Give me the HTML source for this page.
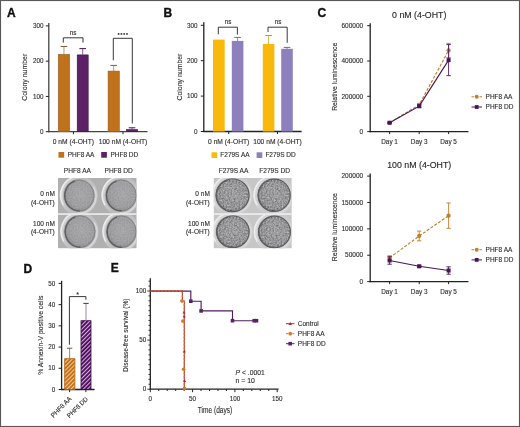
<!DOCTYPE html><html><head><meta charset="utf-8"><style>
html,body{margin:0;padding:0;background:#fff;}
#fig{position:relative;width:520px;height:427px;overflow:hidden;background:#fff;font-family:"Liberation Sans", sans-serif;}
svg{position:absolute;left:0;top:0;} text{stroke-linejoin:round;stroke:#2e2e2e;stroke-width:0.12px;} #fig{will-change:transform;}
</style></head><body><div id="fig">
<svg width="520" height="427" viewBox="0 0 520 427" font-family='"Liberation Sans", sans-serif'>
<defs>
<filter id="noiseA" x="0" y="0" width="100%" height="100%" color-interpolation-filters="sRGB"><feTurbulence type="fractalNoise" baseFrequency="0.7" numOctaves="2" seed="7" result="n"/><feColorMatrix in="n" type="matrix" values="0.33 0.33 0.33 0 0  0.33 0.33 0.33 0 0  0.33 0.33 0.33 0 0  0 0 0 0 1" result="g"/><feComponentTransfer in="g" result="c"><feFuncR type="linear" slope="1.3" intercept="-0.15000000000000002"/><feFuncG type="linear" slope="1.3" intercept="-0.15000000000000002"/><feFuncB type="linear" slope="1.3" intercept="-0.15000000000000002"/></feComponentTransfer><feComposite in="c" in2="SourceGraphic" operator="in"/></filter>
<filter id="noiseB" x="0" y="0" width="100%" height="100%" color-interpolation-filters="sRGB"><feTurbulence type="fractalNoise" baseFrequency="0.62" numOctaves="2" seed="7" result="n"/><feColorMatrix in="n" type="matrix" values="0.33 0.33 0.33 0 0  0.33 0.33 0.33 0 0  0.33 0.33 0.33 0 0  0 0 0 0 1" result="g"/><feComponentTransfer in="g" result="c"><feFuncR type="linear" slope="2.2" intercept="-0.6000000000000001"/><feFuncG type="linear" slope="2.2" intercept="-0.6000000000000001"/><feFuncB type="linear" slope="2.2" intercept="-0.6000000000000001"/></feComponentTransfer><feComposite in="c" in2="SourceGraphic" operator="in"/></filter>
<clipPath id="clipA0"><rect x="58" y="178" width="78.5" height="35.4"/></clipPath>
<clipPath id="clipA1"><rect x="58" y="214.8" width="78.5" height="33.4"/></clipPath>
<clipPath id="clipB0"><rect x="213.8" y="178" width="77.8" height="35.4"/></clipPath>
<clipPath id="clipB1"><rect x="213.8" y="214.8" width="77.8" height="33.4"/></clipPath>
<pattern id="hatchO" width="2.9" height="2.9" patternUnits="userSpaceOnUse" patternTransform="rotate(45)"><rect width="2.9" height="2.9" fill="#c06c16"/><rect width="1.1" height="2.9" fill="#f8cc92"/></pattern>
<pattern id="hatchP" width="2.9" height="2.9" patternUnits="userSpaceOnUse" patternTransform="rotate(45)"><rect width="2.9" height="2.9" fill="#420d50"/><rect width="1.1" height="2.9" fill="#dfa8e8"/></pattern>
<radialGradient id="diskA" cx="0.55" cy="0.45" r="0.6"><stop offset="0" stop-color="#b1b1b5"/><stop offset="0.7" stop-color="#a6a6aa"/><stop offset="1" stop-color="#8c8c90"/></radialGradient>
<radialGradient id="diskB" cx="0.55" cy="0.45" r="0.6"><stop offset="0" stop-color="#b2b2b6"/><stop offset="0.72" stop-color="#a3a3a7"/><stop offset="1" stop-color="#818185"/></radialGradient>
<filter id="soft" x="-10%" y="-10%" width="120%" height="120%"><feGaussianBlur stdDeviation="0.5"/></filter>
<linearGradient id="rimgradA" x1="0" y1="0.3" x2="1" y2="0.7"><stop offset="0" stop-color="#d6d6d8"/><stop offset="0.45" stop-color="#bcbcbe"/><stop offset="1" stop-color="#c6c6c8"/></linearGradient>
<linearGradient id="rimgradB" x1="0" y1="0.3" x2="1" y2="0.7"><stop offset="0" stop-color="#dcdcde"/><stop offset="0.45" stop-color="#c8c8ca"/><stop offset="1" stop-color="#d0d0d2"/></linearGradient>
</defs>
<rect x="0" y="0" width="520" height="427" fill="#fff"/>
<text x="7" y="16.9" font-size="12" text-anchor="start" fill="#111" font-weight="bold" style="stroke:#111;stroke-width:0.35px">A</text>
<text x="163.6" y="16.8" font-size="12" text-anchor="start" fill="#111" font-weight="bold" style="stroke:#111;stroke-width:0.35px">B</text>
<text x="317.6" y="16.8" font-size="12" text-anchor="start" fill="#111" font-weight="bold" style="stroke:#111;stroke-width:0.35px">C</text>
<text x="23.6" y="272.8" font-size="12" text-anchor="start" fill="#111" font-weight="bold" style="stroke:#111;stroke-width:0.35px">D</text>
<text x="110.8" y="272.4" font-size="12" text-anchor="start" fill="#111" font-weight="bold" style="stroke:#111;stroke-width:0.35px">E</text>
<line x1="48.8" y1="22.9" x2="48.8" y2="132.29999999999998" stroke="#444" stroke-width="1.3" />
<line x1="45.8" y1="25.9" x2="48.8" y2="25.9" stroke="#222" stroke-width="1" />
<text x="43.6" y="28.099999999999998" font-size="6.3" text-anchor="end" fill="#2e2e2e" font-weight="normal" >300</text>
<line x1="45.8" y1="61.16666666666666" x2="48.8" y2="61.16666666666666" stroke="#222" stroke-width="1" />
<text x="43.6" y="63.36666666666666" font-size="6.3" text-anchor="end" fill="#2e2e2e" font-weight="normal" >200</text>
<line x1="45.8" y1="96.43333333333331" x2="48.8" y2="96.43333333333331" stroke="#222" stroke-width="1" />
<text x="43.6" y="98.63333333333331" font-size="6.3" text-anchor="end" fill="#2e2e2e" font-weight="normal" >100</text>
<line x1="45.8" y1="131.7" x2="48.8" y2="131.7" stroke="#222" stroke-width="1" />
<text x="43.6" y="133.89999999999998" font-size="6.3" text-anchor="end" fill="#2e2e2e" font-weight="normal" >0</text>
<line x1="48.199999999999996" y1="131.7" x2="147.5" y2="131.7" stroke="#444" stroke-width="1.3" />
<line x1="73.4" y1="131.7" x2="73.4" y2="134.2" stroke="#222" stroke-width="1" />
<text x="73.4" y="144.0" font-size="6.7" text-anchor="middle" fill="#2e2e2e" font-weight="normal" >0 nM (4-OHT)</text>
<line x1="123" y1="131.7" x2="123" y2="134.2" stroke="#222" stroke-width="1" />
<text x="123" y="144.0" font-size="6.7" text-anchor="middle" fill="#2e2e2e" font-weight="normal" >100 nM (4-OHT)</text>
<rect x="58.3" y="54.4" width="11.3" height="77.3" fill="#c0711c" stroke="#9a5a1c" stroke-width="0.6"/>
<line x1="63.95" y1="46.5" x2="63.95" y2="54.4" stroke="#b48c68" stroke-width="0.9" />
<line x1="60.650000000000006" y1="46.5" x2="67.25" y2="46.5" stroke="#7c5c3c" stroke-width="1.0" />
<rect x="77.2" y="54.9" width="11.0" height="76.8" fill="#5c2166" stroke="#3e1248" stroke-width="0.6"/>
<line x1="82.7" y1="48.6" x2="82.7" y2="54.9" stroke="#7a4a88" stroke-width="0.9" />
<line x1="79.4" y1="48.6" x2="86.0" y2="48.6" stroke="#3c1848" stroke-width="1.0" />
<rect x="108.1" y="71.1" width="11.200000000000001" height="60.599999999999994" fill="#c0711c" stroke="#9a5a1c" stroke-width="0.6"/>
<line x1="113.7" y1="65.4" x2="113.7" y2="71.1" stroke="#b48c68" stroke-width="0.9" />
<line x1="110.4" y1="65.4" x2="117.0" y2="65.4" stroke="#7c5c3c" stroke-width="1.0" />
<rect x="126.5" y="129.60000000000002" width="11.0" height="2.0999999999999774" fill="#5c2166" stroke="#3e1248" stroke-width="0.6"/>
<line x1="132.0" y1="127.8" x2="132.0" y2="129.60000000000002" stroke="#7a4a88" stroke-width="0.9" />
<line x1="128.7" y1="127.8" x2="135.3" y2="127.8" stroke="#3c1848" stroke-width="1.0" />
<path d="M63.3 42.6 V37.8 H83 V42.6" fill="none" stroke="#222" stroke-width="0.9"/>
<text x="73.2" y="35.3" font-size="6.3" text-anchor="middle" fill="#2e2e2e" font-weight="normal" >ns</text>
<path d="M113.3 60.3 V38.3 H132.3 V123.5" fill="none" stroke="#222" stroke-width="0.9"/>
<text x="122.9" y="37.9" font-size="6.3" text-anchor="middle" fill="#2e2e2e" font-weight="normal" ></text>
<rect x="58.5" y="152.0" width="5.7" height="5.7" fill="#c0711c" />
<text x="67.7" y="157.1" font-size="6.5" text-anchor="start" fill="#2e2e2e" font-weight="normal" >PHF8 AA</text>
<rect x="101.2" y="152.0" width="5.7" height="5.7" fill="#5c2166" />
<text x="110.4" y="157.1" font-size="6.5" text-anchor="start" fill="#2e2e2e" font-weight="normal" >PHF8 DD</text>
<text x="-23.5" y="0" font-size="7.8" text-anchor="start" fill="#2e2e2e" textLength="47.0" lengthAdjust="spacingAndGlyphs" transform="translate(26.5,77.25) rotate(-90)">Colony number</text>
<circle cx="118.6" cy="33.9" r="0.95" fill="#333"/>
<circle cx="121.4" cy="33.9" r="0.95" fill="#333"/>
<circle cx="124.2" cy="33.9" r="0.95" fill="#333"/>
<circle cx="127.0" cy="33.9" r="0.95" fill="#333"/>
<line x1="203.8" y1="22.3" x2="203.8" y2="132.1" stroke="#222" stroke-width="1.3" />
<line x1="200.8" y1="25.3" x2="203.8" y2="25.3" stroke="#222" stroke-width="1" />
<text x="197.6" y="27.5" font-size="6.3" text-anchor="end" fill="#2e2e2e" font-weight="normal" >300</text>
<line x1="200.8" y1="60.7" x2="203.8" y2="60.7" stroke="#222" stroke-width="1" />
<text x="197.6" y="62.900000000000006" font-size="6.3" text-anchor="end" fill="#2e2e2e" font-weight="normal" >200</text>
<line x1="200.8" y1="96.1" x2="203.8" y2="96.1" stroke="#222" stroke-width="1" />
<text x="197.6" y="98.3" font-size="6.3" text-anchor="end" fill="#2e2e2e" font-weight="normal" >100</text>
<line x1="200.8" y1="131.5" x2="203.8" y2="131.5" stroke="#222" stroke-width="1" />
<text x="197.6" y="133.7" font-size="6.3" text-anchor="end" fill="#2e2e2e" font-weight="normal" >0</text>
<line x1="203.20000000000002" y1="131.5" x2="301.6" y2="131.5" stroke="#222" stroke-width="1.3" />
<line x1="228.7" y1="131.5" x2="228.7" y2="134.0" stroke="#222" stroke-width="1" />
<text x="228.7" y="143.8" font-size="6.7" text-anchor="middle" fill="#2e2e2e" font-weight="normal" >0 nM (4-OHT)</text>
<line x1="277.5" y1="131.5" x2="277.5" y2="134.0" stroke="#222" stroke-width="1" />
<text x="277.5" y="143.8" font-size="6.7" text-anchor="middle" fill="#2e2e2e" font-weight="normal" >100 nM (4-OHT)</text>
<rect x="213.0" y="39.6" width="11.7" height="91.9" fill="#f8b90c" />
<rect x="231.8" y="40.9" width="11.6" height="90.6" fill="#8d80bd" />
<line x1="237.60000000000002" y1="37.4" x2="237.60000000000002" y2="41.199999999999996" stroke="#8878b0" stroke-width="0.9" />
<line x1="234.3" y1="37.4" x2="240.90000000000003" y2="37.4" stroke="#7464a0" stroke-width="1.0" />
<rect x="262.8" y="43.9" width="11.6" height="87.6" fill="#f8b90c" />
<line x1="268.6" y1="35.5" x2="268.6" y2="44.199999999999996" stroke="#c4aa44" stroke-width="0.9" />
<line x1="265.3" y1="35.5" x2="271.90000000000003" y2="35.5" stroke="#b49c3c" stroke-width="1.0" />
<rect x="281.2" y="48.8" width="11.6" height="82.7" fill="#8d80bd" />
<line x1="287.0" y1="47.4" x2="287.0" y2="49.099999999999994" stroke="#8878b0" stroke-width="0.9" />
<line x1="283.7" y1="47.4" x2="290.3" y2="47.4" stroke="#7464a0" stroke-width="1.0" />
<path d="M218.3 34.3 V27.2 H237.4 V34.6" fill="none" stroke="#222" stroke-width="0.9"/>
<text x="228" y="24.2" font-size="6.3" text-anchor="middle" fill="#2e2e2e" font-weight="normal" >ns</text>
<path d="M268 32 V27.2 H287.2 V42.8" fill="none" stroke="#222" stroke-width="0.9"/>
<text x="278" y="24.2" font-size="6.3" text-anchor="middle" fill="#2e2e2e" font-weight="normal" >ns</text>
<rect x="211.5" y="152.3" width="5.7" height="5.7" fill="#f8b90c" />
<text x="220.3" y="157.4" font-size="6.5" text-anchor="start" fill="#2e2e2e" font-weight="normal" >F279S AA</text>
<rect x="256.6" y="152.3" width="5.7" height="5.7" fill="#8d80bd" />
<text x="265.4" y="157.4" font-size="6.5" text-anchor="start" fill="#2e2e2e" font-weight="normal" >F279S DD</text>
<text x="-23.5" y="0" font-size="7.8" text-anchor="start" fill="#2e2e2e" textLength="47.0" lengthAdjust="spacingAndGlyphs" transform="translate(181.5,77.1) rotate(-90)">Colony number</text>
<text x="77.4" y="173.0" font-size="6.6" text-anchor="middle" fill="#2e2e2e" font-weight="normal" >PHF8 AA</text>
<text x="118.6" y="173.0" font-size="6.6" text-anchor="middle" fill="#2e2e2e" font-weight="normal" >PHF8 DD</text>
<text x="54.8" y="196.4" font-size="6.5" text-anchor="end" fill="#2e2e2e" font-weight="normal" >0 nM</text>
<text x="54.8" y="205.0" font-size="6.5" text-anchor="end" fill="#2e2e2e" font-weight="normal" >(4-OHT)</text>
<text x="54.8" y="225.5" font-size="6.5" text-anchor="end" fill="#2e2e2e" font-weight="normal" >100 nM</text>
<text x="54.8" y="233.5" font-size="6.5" text-anchor="end" fill="#2e2e2e" font-weight="normal" >(4-OHT)</text>
<rect x="58" y="178" width="78.5" height="70.19999999999999" fill="#b0b0b1"/>
<g clip-path="url(#clipA0)"><g transform="translate(79.3,195.6) scale(0.9744,1.0256)">
<circle cx="-0.6" cy="0" r="17.8" fill="none" stroke="url(#rimgradA)" stroke-width="3.2" filter="url(#soft)"/>
<path d="M-16.76 8.80 A18.2 18.2 0 0 1 -4.16 -18.22" fill="none" stroke="#eeeeee" stroke-width="1.4" stroke-linecap="round" filter="url(#soft)"/>
<path d="M14.85 -8.10 A16.8 16.8 0 0 1 -1.16 17.04" fill="none" stroke="#dadada" stroke-width="1.3" stroke-linecap="round" filter="url(#soft)"/>
<circle cx="0" cy="0" r="15.6" fill="url(#diskA)"/>
<circle cx="0" cy="0" r="15.1" fill="none" stroke="#7a7a7a" stroke-width="0.8"/>
<path d="M0.00 14.90 A14.9 14.9 0 0 1 -5.10 -14.00" fill="none" stroke="#5e5e5e" stroke-width="1.4" stroke-linecap="round" filter="url(#soft)"/>
<circle cx="0" cy="0" r="14.6" fill="#888" filter="url(#noiseA)" opacity="0.18"/>
</g></g>
<g clip-path="url(#clipA0)"><g transform="translate(121.2,195.5) scale(0.9809,1.0191)">
<circle cx="-0.6" cy="0" r="17.9" fill="none" stroke="url(#rimgradA)" stroke-width="3.2" filter="url(#soft)"/>
<path d="M-16.85 8.85 A18.3 18.3 0 0 1 -4.18 -18.32" fill="none" stroke="#eeeeee" stroke-width="1.4" stroke-linecap="round" filter="url(#soft)"/>
<path d="M14.94 -8.15 A16.9 16.9 0 0 1 -1.17 17.14" fill="none" stroke="#dadada" stroke-width="1.3" stroke-linecap="round" filter="url(#soft)"/>
<circle cx="0" cy="0" r="15.7" fill="url(#diskA)"/>
<circle cx="0" cy="0" r="15.2" fill="none" stroke="#7a7a7a" stroke-width="0.8"/>
<path d="M0.00 15.00 A15.0 15.0 0 0 1 -5.13 -14.10" fill="none" stroke="#5e5e5e" stroke-width="1.4" stroke-linecap="round" filter="url(#soft)"/>
<circle cx="0" cy="0" r="14.7" fill="#888" filter="url(#noiseA)" opacity="0.18"/>
</g></g>
<g clip-path="url(#clipA1)"><g transform="translate(80.0,231.6) scale(0.9716,1.0284)">
<circle cx="-0.6" cy="0" r="18.05" fill="none" stroke="url(#rimgradA)" stroke-width="3.2" filter="url(#soft)"/>
<path d="M-16.98 8.92 A18.450000000000003 18.450000000000003 0 0 1 -4.20 -18.47" fill="none" stroke="#eeeeee" stroke-width="1.4" stroke-linecap="round" filter="url(#soft)"/>
<path d="M15.07 -8.22 A17.05 17.05 0 0 1 -1.19 17.29" fill="none" stroke="#dadada" stroke-width="1.3" stroke-linecap="round" filter="url(#soft)"/>
<circle cx="0" cy="0" r="15.850000000000001" fill="url(#diskA)"/>
<circle cx="0" cy="0" r="15.350000000000001" fill="none" stroke="#7a7a7a" stroke-width="0.8"/>
<path d="M0.00 15.15 A15.150000000000002 15.150000000000002 0 0 1 -5.18 -14.24" fill="none" stroke="#5e5e5e" stroke-width="1.4" stroke-linecap="round" filter="url(#soft)"/>
<circle cx="0" cy="0" r="14.850000000000001" fill="#888" filter="url(#noiseA)" opacity="0.18"/>
</g></g>
<g clip-path="url(#clipA1)"><g transform="translate(121.5,231.7) scale(0.9585,1.0415)">
<circle cx="-0.6" cy="0" r="17.85" fill="none" stroke="url(#rimgradA)" stroke-width="3.2" filter="url(#soft)"/>
<path d="M-16.80 8.82 A18.25 18.25 0 0 1 -4.17 -18.27" fill="none" stroke="#eeeeee" stroke-width="1.4" stroke-linecap="round" filter="url(#soft)"/>
<path d="M14.89 -8.12 A16.85 16.85 0 0 1 -1.17 17.09" fill="none" stroke="#dadada" stroke-width="1.3" stroke-linecap="round" filter="url(#soft)"/>
<circle cx="0" cy="0" r="15.65" fill="url(#diskA)"/>
<circle cx="0" cy="0" r="15.15" fill="none" stroke="#7a7a7a" stroke-width="0.8"/>
<path d="M0.00 14.95 A14.950000000000001 14.950000000000001 0 0 1 -5.11 -14.05" fill="none" stroke="#5e5e5e" stroke-width="1.4" stroke-linecap="round" filter="url(#soft)"/>
<circle cx="0" cy="0" r="14.65" fill="#888" filter="url(#noiseA)" opacity="0.18"/>
</g></g>
<rect x="58" y="213.3" width="78.5" height="1.5" fill="#f2f2f2"/>
<text x="233.5" y="173.0" font-size="6.6" text-anchor="middle" fill="#2e2e2e" font-weight="normal" >F279S AA</text>
<text x="274.6" y="173.0" font-size="6.6" text-anchor="middle" fill="#2e2e2e" font-weight="normal" >F279S DD</text>
<text x="209.8" y="196.4" font-size="6.5" text-anchor="end" fill="#2e2e2e" font-weight="normal" >0 nM</text>
<text x="209.8" y="205.0" font-size="6.5" text-anchor="end" fill="#2e2e2e" font-weight="normal" >(4-OHT)</text>
<text x="209.8" y="225.5" font-size="6.5" text-anchor="end" fill="#2e2e2e" font-weight="normal" >100 nM</text>
<text x="209.8" y="233.5" font-size="6.5" text-anchor="end" fill="#2e2e2e" font-weight="normal" >(4-OHT)</text>
<rect x="213.8" y="178" width="77.80000000000001" height="70.19999999999999" fill="#c6c6c7"/>
<g clip-path="url(#clipB0)"><g transform="translate(232.6,195.3) scale(1.0030,0.9970)">
<circle cx="-0.6" cy="0" r="19.05" fill="none" stroke="url(#rimgradB)" stroke-width="3.2" filter="url(#soft)"/>
<path d="M-17.84 9.42 A19.450000000000003 19.450000000000003 0 0 1 -4.38 -19.45" fill="none" stroke="#eeeeee" stroke-width="1.4" stroke-linecap="round" filter="url(#soft)"/>
<path d="M15.93 -8.72 A18.05 18.05 0 0 1 -1.27 18.28" fill="none" stroke="#dadada" stroke-width="1.3" stroke-linecap="round" filter="url(#soft)"/>
<circle cx="0" cy="0" r="16.85" fill="url(#diskB)"/>
<circle cx="0" cy="0" r="16.35" fill="none" stroke="#5c5c5e" stroke-width="1.2"/>
<path d="M0.00 16.15 A16.150000000000002 16.150000000000002 0 0 1 -5.52 -15.18" fill="none" stroke="#5e5e5e" stroke-width="1.4" stroke-linecap="round" filter="url(#soft)"/>
<circle cx="0" cy="0" r="15.850000000000001" fill="#888" filter="url(#noiseB)" opacity="0.36"/>
</g></g>
<g clip-path="url(#clipB0)"><g transform="translate(274.2,195.3) scale(0.9970,1.0030)">
<circle cx="-0.6" cy="0" r="18.75" fill="none" stroke="url(#rimgradB)" stroke-width="3.2" filter="url(#soft)"/>
<path d="M-17.58 9.27 A19.150000000000002 19.150000000000002 0 0 1 -4.33 -19.16" fill="none" stroke="#eeeeee" stroke-width="1.4" stroke-linecap="round" filter="url(#soft)"/>
<path d="M15.67 -8.57 A17.75 17.75 0 0 1 -1.25 17.98" fill="none" stroke="#dadada" stroke-width="1.3" stroke-linecap="round" filter="url(#soft)"/>
<circle cx="0" cy="0" r="16.55" fill="url(#diskB)"/>
<circle cx="0" cy="0" r="16.05" fill="none" stroke="#5c5c5e" stroke-width="1.2"/>
<path d="M0.00 15.85 A15.850000000000001 15.850000000000001 0 0 1 -5.42 -14.89" fill="none" stroke="#5e5e5e" stroke-width="1.4" stroke-linecap="round" filter="url(#soft)"/>
<circle cx="0" cy="0" r="15.55" fill="#888" filter="url(#noiseB)" opacity="0.36"/>
</g></g>
<g clip-path="url(#clipB1)"><g transform="translate(232.9,231.8) scale(1.0121,0.9879)">
<circle cx="-0.6" cy="0" r="18.7" fill="none" stroke="url(#rimgradB)" stroke-width="3.2" filter="url(#soft)"/>
<path d="M-17.54 9.25 A19.1 19.1 0 0 1 -4.32 -19.11" fill="none" stroke="#eeeeee" stroke-width="1.4" stroke-linecap="round" filter="url(#soft)"/>
<path d="M15.63 -8.55 A17.7 17.7 0 0 1 -1.24 17.93" fill="none" stroke="#dadada" stroke-width="1.3" stroke-linecap="round" filter="url(#soft)"/>
<circle cx="0" cy="0" r="16.5" fill="url(#diskB)"/>
<circle cx="0" cy="0" r="16.0" fill="none" stroke="#5c5c5e" stroke-width="1.2"/>
<path d="M0.00 15.80 A15.8 15.8 0 0 1 -5.40 -14.85" fill="none" stroke="#5e5e5e" stroke-width="1.4" stroke-linecap="round" filter="url(#soft)"/>
<circle cx="0" cy="0" r="15.5" fill="#888" filter="url(#noiseB)" opacity="0.36"/>
</g></g>
<g clip-path="url(#clipB1)"><g transform="translate(274.5,232.0) scale(1.0031,0.9969)">
<circle cx="-0.6" cy="0" r="18.55" fill="none" stroke="url(#rimgradB)" stroke-width="3.2" filter="url(#soft)"/>
<path d="M-17.41 9.17 A18.950000000000003 18.950000000000003 0 0 1 -4.29 -18.96" fill="none" stroke="#eeeeee" stroke-width="1.4" stroke-linecap="round" filter="url(#soft)"/>
<path d="M15.50 -8.47 A17.55 17.55 0 0 1 -1.23 17.78" fill="none" stroke="#dadada" stroke-width="1.3" stroke-linecap="round" filter="url(#soft)"/>
<circle cx="0" cy="0" r="16.35" fill="url(#diskB)"/>
<circle cx="0" cy="0" r="15.850000000000001" fill="none" stroke="#5c5c5e" stroke-width="1.2"/>
<path d="M0.00 15.65 A15.650000000000002 15.650000000000002 0 0 1 -5.35 -14.71" fill="none" stroke="#5e5e5e" stroke-width="1.4" stroke-linecap="round" filter="url(#soft)"/>
<circle cx="0" cy="0" r="15.350000000000001" fill="#888" filter="url(#noiseB)" opacity="0.36"/>
</g></g>
<rect x="213.8" y="213.3" width="77.80000000000001" height="1.5" fill="#f2f2f2"/>
<text x="419.2" y="18.0" font-size="8.8" text-anchor="middle" fill="#222" font-weight="normal" >0 nM (4-OHT)</text>
<line x1="370.2" y1="23.2" x2="370.2" y2="132.2" stroke="#222" stroke-width="1.3" />
<line x1="367.2" y1="25.7" x2="370.2" y2="25.7" stroke="#222" stroke-width="1" />
<text x="363.2" y="27.9" font-size="6.5" text-anchor="end" fill="#2e2e2e" font-weight="normal" >600000</text>
<line x1="367.2" y1="61.0" x2="370.2" y2="61.0" stroke="#222" stroke-width="1" />
<text x="363.2" y="63.2" font-size="6.5" text-anchor="end" fill="#2e2e2e" font-weight="normal" >400000</text>
<line x1="367.2" y1="96.3" x2="370.2" y2="96.3" stroke="#222" stroke-width="1" />
<text x="363.2" y="98.5" font-size="6.5" text-anchor="end" fill="#2e2e2e" font-weight="normal" >200000</text>
<line x1="367.2" y1="131.6" x2="370.2" y2="131.6" stroke="#222" stroke-width="1" />
<text x="363.2" y="133.79999999999998" font-size="6.5" text-anchor="end" fill="#2e2e2e" font-weight="normal" >0</text>
<line x1="369.59999999999997" y1="131.6" x2="468.4" y2="131.6" stroke="#222" stroke-width="1.3" />
<line x1="389.6" y1="131.6" x2="389.6" y2="134.1" stroke="#222" stroke-width="1" />
<text x="389.6" y="143.9" font-size="6.4" text-anchor="middle" fill="#2e2e2e" font-weight="normal" >Day 1</text>
<line x1="419.2" y1="131.6" x2="419.2" y2="134.1" stroke="#222" stroke-width="1" />
<text x="419.2" y="143.9" font-size="6.4" text-anchor="middle" fill="#2e2e2e" font-weight="normal" >Day 3</text>
<line x1="448.6" y1="131.6" x2="448.6" y2="134.1" stroke="#222" stroke-width="1" />
<text x="448.6" y="143.9" font-size="6.4" text-anchor="middle" fill="#2e2e2e" font-weight="normal" >Day 5</text>
<text x="-34.05" y="0" font-size="7.6" text-anchor="start" fill="#2e2e2e" textLength="68.1" lengthAdjust="spacingAndGlyphs" transform="translate(336.7,76.8) rotate(-90)">Relative luminescence</text>
<polyline points="389.6,122.77 419.2,104.77 448.6,50.41" fill="none" stroke="#c57d28" stroke-width="1.15" stroke-dasharray="3 1.6"/>
<line x1="389.6" y1="122.24549999999999" x2="389.6" y2="123.30449999999999" stroke="#c57d28" stroke-width="0.9" />
<line x1="387.40000000000003" y1="122.24549999999999" x2="391.8" y2="122.24549999999999" stroke="#c57d28" stroke-width="0.9" />
<line x1="387.40000000000003" y1="123.30449999999999" x2="391.8" y2="123.30449999999999" stroke="#c57d28" stroke-width="0.9" />
<circle cx="389.6" cy="122.77" r="2.1" fill="#c57d28"/>
<line x1="419.2" y1="103.36" x2="419.2" y2="106.184" stroke="#c57d28" stroke-width="0.9" />
<line x1="417.0" y1="103.36" x2="421.4" y2="103.36" stroke="#c57d28" stroke-width="0.9" />
<line x1="417.0" y1="106.184" x2="421.4" y2="106.184" stroke="#c57d28" stroke-width="0.9" />
<circle cx="419.2" cy="104.77" r="2.1" fill="#c57d28"/>
<line x1="448.6" y1="43.349999999999994" x2="448.6" y2="57.47" stroke="#c57d28" stroke-width="0.9" />
<line x1="446.40000000000003" y1="43.349999999999994" x2="450.8" y2="43.349999999999994" stroke="#c57d28" stroke-width="0.9" />
<line x1="446.40000000000003" y1="57.47" x2="450.8" y2="57.47" stroke="#c57d28" stroke-width="0.9" />
<circle cx="448.6" cy="50.41" r="2.1" fill="#c57d28"/>
<polyline points="389.6,122.77 419.2,106.18 448.6,60.12" fill="none" stroke="#481658" stroke-width="1.15" />
<line x1="389.6" y1="122.24549999999999" x2="389.6" y2="123.30449999999999" stroke="#481658" stroke-width="0.9" />
<line x1="387.40000000000003" y1="122.24549999999999" x2="391.8" y2="122.24549999999999" stroke="#481658" stroke-width="0.9" />
<line x1="387.40000000000003" y1="123.30449999999999" x2="391.8" y2="123.30449999999999" stroke="#481658" stroke-width="0.9" />
<rect x="387.6" y="120.77" width="4" height="4" fill="#481658"/>
<line x1="419.2" y1="104.77199999999999" x2="419.2" y2="107.596" stroke="#481658" stroke-width="0.9" />
<line x1="417.0" y1="104.77199999999999" x2="421.4" y2="104.77199999999999" stroke="#481658" stroke-width="0.9" />
<line x1="417.0" y1="107.596" x2="421.4" y2="107.596" stroke="#481658" stroke-width="0.9" />
<rect x="417.2" y="104.18" width="4" height="4" fill="#481658"/>
<line x1="448.6" y1="44.585499999999996" x2="448.6" y2="75.6495" stroke="#481658" stroke-width="0.9" />
<line x1="446.40000000000003" y1="44.585499999999996" x2="450.8" y2="44.585499999999996" stroke="#481658" stroke-width="0.9" />
<line x1="446.40000000000003" y1="75.6495" x2="450.8" y2="75.6495" stroke="#481658" stroke-width="0.9" />
<rect x="446.6" y="58.12" width="4" height="4" fill="#481658"/>
<line x1="471.5" y1="96.8" x2="482" y2="96.8" stroke="#c57d28" stroke-width="1" stroke-dasharray="2.5 1.5"/>
<circle cx="476.7" cy="96.8" r="2" fill="#c57d28"/>
<text x="485.6" y="99.1" font-size="6.5" text-anchor="start" fill="#2e2e2e" font-weight="normal" >PHF8 AA</text>
<line x1="471.5" y1="107.0" x2="482" y2="107.0" stroke="#481658" stroke-width="1" />
<rect x="474.8" y="105.1" width="3.8" height="3.8" fill="#481658"/>
<text x="485.6" y="109.3" font-size="6.5" text-anchor="start" fill="#2e2e2e" font-weight="normal" >PHF8 DD</text>
<text x="419.2" y="168.0" font-size="8.8" text-anchor="middle" fill="#222" font-weight="normal" >100 nM (4-OHT)</text>
<line x1="370.2" y1="173.6" x2="370.2" y2="282.20000000000005" stroke="#222" stroke-width="1.3" />
<line x1="367.2" y1="176.1" x2="370.2" y2="176.1" stroke="#222" stroke-width="1" />
<text x="363.2" y="178.29999999999998" font-size="6.5" text-anchor="end" fill="#2e2e2e" font-weight="normal" >200000</text>
<line x1="367.2" y1="202.475" x2="370.2" y2="202.475" stroke="#222" stroke-width="1" />
<text x="363.2" y="204.67499999999998" font-size="6.5" text-anchor="end" fill="#2e2e2e" font-weight="normal" >150000</text>
<line x1="367.2" y1="228.85000000000002" x2="370.2" y2="228.85000000000002" stroke="#222" stroke-width="1" />
<text x="363.2" y="231.05" font-size="6.5" text-anchor="end" fill="#2e2e2e" font-weight="normal" >100000</text>
<line x1="367.2" y1="255.22500000000002" x2="370.2" y2="255.22500000000002" stroke="#222" stroke-width="1" />
<text x="363.2" y="257.425" font-size="6.5" text-anchor="end" fill="#2e2e2e" font-weight="normal" >50000</text>
<line x1="367.2" y1="281.6" x2="370.2" y2="281.6" stroke="#222" stroke-width="1" />
<text x="363.2" y="283.8" font-size="6.5" text-anchor="end" fill="#2e2e2e" font-weight="normal" >0</text>
<line x1="369.59999999999997" y1="281.6" x2="468.4" y2="281.6" stroke="#222" stroke-width="1.3" />
<line x1="389.6" y1="281.6" x2="389.6" y2="284.1" stroke="#222" stroke-width="1" />
<text x="389.6" y="293.90000000000003" font-size="6.4" text-anchor="middle" fill="#2e2e2e" font-weight="normal" >Day 1</text>
<line x1="419.2" y1="281.6" x2="419.2" y2="284.1" stroke="#222" stroke-width="1" />
<text x="419.2" y="293.90000000000003" font-size="6.4" text-anchor="middle" fill="#2e2e2e" font-weight="normal" >Day 3</text>
<line x1="448.6" y1="281.6" x2="448.6" y2="284.1" stroke="#222" stroke-width="1" />
<text x="448.6" y="293.90000000000003" font-size="6.4" text-anchor="middle" fill="#2e2e2e" font-weight="normal" >Day 5</text>
<text x="-34.05" y="0" font-size="7.6" text-anchor="start" fill="#2e2e2e" textLength="68.1" lengthAdjust="spacingAndGlyphs" transform="translate(336.7,227.2) rotate(-90)">Relative luminescence</text>
<polyline points="389.6,257.86 419.2,235.97 448.6,215.66" fill="none" stroke="#c57d28" stroke-width="1.15" stroke-dasharray="3 1.6"/>
<line x1="389.6" y1="255.75250000000003" x2="389.6" y2="259.9725" stroke="#c57d28" stroke-width="0.9" />
<line x1="387.40000000000003" y1="255.75250000000003" x2="391.8" y2="255.75250000000003" stroke="#c57d28" stroke-width="0.9" />
<line x1="387.40000000000003" y1="259.9725" x2="391.8" y2="259.9725" stroke="#c57d28" stroke-width="0.9" />
<circle cx="389.6" cy="257.86" r="2.1" fill="#c57d28"/>
<line x1="419.2" y1="231.11825000000002" x2="419.2" y2="240.82425" stroke="#c57d28" stroke-width="0.9" />
<line x1="417.0" y1="231.11825000000002" x2="421.4" y2="231.11825000000002" stroke="#c57d28" stroke-width="0.9" />
<line x1="417.0" y1="240.82425" x2="421.4" y2="240.82425" stroke="#c57d28" stroke-width="0.9" />
<circle cx="419.2" cy="235.97" r="2.1" fill="#c57d28"/>
<line x1="448.6" y1="203.0025" x2="448.6" y2="228.3225" stroke="#c57d28" stroke-width="0.9" />
<line x1="446.40000000000003" y1="203.0025" x2="450.8" y2="203.0025" stroke="#c57d28" stroke-width="0.9" />
<line x1="446.40000000000003" y1="228.3225" x2="450.8" y2="228.3225" stroke="#c57d28" stroke-width="0.9" />
<circle cx="448.6" cy="215.66" r="2.1" fill="#c57d28"/>
<polyline points="389.6,260.50 419.2,266.30 448.6,270.52" fill="none" stroke="#481658" stroke-width="1.15" />
<line x1="389.6" y1="256.8075" x2="389.6" y2="264.1925" stroke="#481658" stroke-width="0.9" />
<line x1="387.40000000000003" y1="256.8075" x2="391.8" y2="256.8075" stroke="#481658" stroke-width="0.9" />
<line x1="387.40000000000003" y1="264.1925" x2="391.8" y2="264.1925" stroke="#481658" stroke-width="0.9" />
<rect x="387.6" y="258.50" width="4" height="4" fill="#481658"/>
<line x1="419.2" y1="265.2475" x2="419.2" y2="267.3575" stroke="#481658" stroke-width="0.9" />
<line x1="417.0" y1="265.2475" x2="421.4" y2="265.2475" stroke="#481658" stroke-width="0.9" />
<line x1="417.0" y1="267.3575" x2="421.4" y2="267.3575" stroke="#481658" stroke-width="0.9" />
<rect x="417.2" y="264.30" width="4" height="4" fill="#481658"/>
<line x1="448.6" y1="266.83000000000004" x2="448.6" y2="274.21500000000003" stroke="#481658" stroke-width="0.9" />
<line x1="446.40000000000003" y1="266.83000000000004" x2="450.8" y2="266.83000000000004" stroke="#481658" stroke-width="0.9" />
<line x1="446.40000000000003" y1="274.21500000000003" x2="450.8" y2="274.21500000000003" stroke="#481658" stroke-width="0.9" />
<rect x="446.6" y="268.52" width="4" height="4" fill="#481658"/>
<line x1="471.5" y1="249.7" x2="482" y2="249.7" stroke="#c57d28" stroke-width="1" stroke-dasharray="2.5 1.5"/>
<circle cx="476.7" cy="249.7" r="2" fill="#c57d28"/>
<text x="485.6" y="252.0" font-size="6.5" text-anchor="start" fill="#2e2e2e" font-weight="normal" >PHF8 AA</text>
<line x1="471.5" y1="259.9" x2="482" y2="259.9" stroke="#481658" stroke-width="1" />
<rect x="474.8" y="258.0" width="3.8" height="3.8" fill="#481658"/>
<text x="485.6" y="262.2" font-size="6.5" text-anchor="start" fill="#2e2e2e" font-weight="normal" >PHF8 DD</text>
<line x1="61.6" y1="280.79999999999995" x2="61.6" y2="390.1" stroke="#222" stroke-width="1.3" />
<line x1="58.6" y1="283.4" x2="61.6" y2="283.4" stroke="#222" stroke-width="1" />
<text x="55.2" y="285.59999999999997" font-size="6.3" text-anchor="end" fill="#2e2e2e" font-weight="normal" >50</text>
<line x1="58.6" y1="304.62" x2="61.6" y2="304.62" stroke="#222" stroke-width="1" />
<text x="55.2" y="306.82" font-size="6.3" text-anchor="end" fill="#2e2e2e" font-weight="normal" >40</text>
<line x1="58.6" y1="325.84" x2="61.6" y2="325.84" stroke="#222" stroke-width="1" />
<text x="55.2" y="328.03999999999996" font-size="6.3" text-anchor="end" fill="#2e2e2e" font-weight="normal" >30</text>
<line x1="58.6" y1="347.06" x2="61.6" y2="347.06" stroke="#222" stroke-width="1" />
<text x="55.2" y="349.26" font-size="6.3" text-anchor="end" fill="#2e2e2e" font-weight="normal" >20</text>
<line x1="58.6" y1="368.28" x2="61.6" y2="368.28" stroke="#222" stroke-width="1" />
<text x="55.2" y="370.47999999999996" font-size="6.3" text-anchor="end" fill="#2e2e2e" font-weight="normal" >10</text>
<line x1="58.6" y1="389.5" x2="61.6" y2="389.5" stroke="#222" stroke-width="1" />
<text x="55.2" y="391.7" font-size="6.3" text-anchor="end" fill="#2e2e2e" font-weight="normal" >0</text>
<line x1="61.0" y1="389.5" x2="94.6" y2="389.5" stroke="#222" stroke-width="1.3" />
<line x1="69.6" y1="389.5" x2="69.6" y2="392.1" stroke="#222" stroke-width="1" />
<line x1="85.9" y1="389.5" x2="85.9" y2="392.1" stroke="#222" stroke-width="1" />
<rect x="64.7" y="358.7" width="10.2" height="30.80000000000001" fill="url(#hatchO)" stroke="#b0600f" stroke-width="0.8"/>
<rect x="81.0" y="320.7" width="10.0" height="68.80000000000001" fill="url(#hatchP)" stroke="#3a0846" stroke-width="0.8"/>
<line x1="69.6" y1="348.2" x2="69.6" y2="358.5" stroke="#9c7c54" stroke-width="0.9" />
<line x1="66.9" y1="348.2" x2="72.3" y2="348.2" stroke="#6a5a48" stroke-width="1.0" />
<line x1="86.0" y1="303.4" x2="86.0" y2="320.5" stroke="#a082aa" stroke-width="1.0" />
<line x1="83.3" y1="303.4" x2="88.7" y2="303.4" stroke="#3e3a44" stroke-width="1.0" />
<path d="M69.4 344.7 V296.6 H85.9 V299.8" fill="none" stroke="#222" stroke-width="0.9"/>
<text x="77.6" y="297.0" font-size="7.2" text-anchor="middle" fill="#2e2e2e" font-weight="normal" >*</text>
<text x="-39.55" y="0" font-size="7.6" text-anchor="start" fill="#2e2e2e" textLength="79.1" lengthAdjust="spacingAndGlyphs" transform="translate(42.5,335.2) rotate(-90)">% Annexin-V positive cells</text>
<text x="-26.3" font-size="6.5" fill="#2e2e2e" textLength="26.3" lengthAdjust="spacingAndGlyphs" transform="translate(72.0,399.3) rotate(-45)">PHF8 AA</text>
<text x="-26.6" font-size="6.5" fill="#2e2e2e" textLength="26.6" lengthAdjust="spacingAndGlyphs" transform="translate(88.4,399.5) rotate(-45)">PHF8 DD</text>
<line x1="150.3" y1="278.2" x2="150.3" y2="389.8" stroke="#222" stroke-width="1.3" />
<line x1="147.3" y1="389.2" x2="150.3" y2="389.2" stroke="#222" stroke-width="0.9" />
<line x1="148.5" y1="384.28999999999996" x2="150.3" y2="384.28999999999996" stroke="#222" stroke-width="0.9" />
<line x1="148.5" y1="379.38" x2="150.3" y2="379.38" stroke="#222" stroke-width="0.9" />
<line x1="148.5" y1="374.46999999999997" x2="150.3" y2="374.46999999999997" stroke="#222" stroke-width="0.9" />
<line x1="148.5" y1="369.56" x2="150.3" y2="369.56" stroke="#222" stroke-width="0.9" />
<line x1="148.5" y1="364.65" x2="150.3" y2="364.65" stroke="#222" stroke-width="0.9" />
<line x1="148.5" y1="359.74" x2="150.3" y2="359.74" stroke="#222" stroke-width="0.9" />
<line x1="148.5" y1="354.83" x2="150.3" y2="354.83" stroke="#222" stroke-width="0.9" />
<line x1="148.5" y1="349.91999999999996" x2="150.3" y2="349.91999999999996" stroke="#222" stroke-width="0.9" />
<line x1="148.5" y1="345.01" x2="150.3" y2="345.01" stroke="#222" stroke-width="0.9" />
<line x1="147.3" y1="340.1" x2="150.3" y2="340.1" stroke="#222" stroke-width="0.9" />
<line x1="148.5" y1="335.19" x2="150.3" y2="335.19" stroke="#222" stroke-width="0.9" />
<line x1="148.5" y1="330.28" x2="150.3" y2="330.28" stroke="#222" stroke-width="0.9" />
<line x1="148.5" y1="325.37" x2="150.3" y2="325.37" stroke="#222" stroke-width="0.9" />
<line x1="148.5" y1="320.46000000000004" x2="150.3" y2="320.46000000000004" stroke="#222" stroke-width="0.9" />
<line x1="148.5" y1="315.55" x2="150.3" y2="315.55" stroke="#222" stroke-width="0.9" />
<line x1="148.5" y1="310.64" x2="150.3" y2="310.64" stroke="#222" stroke-width="0.9" />
<line x1="148.5" y1="305.73" x2="150.3" y2="305.73" stroke="#222" stroke-width="0.9" />
<line x1="148.5" y1="300.82" x2="150.3" y2="300.82" stroke="#222" stroke-width="0.9" />
<line x1="148.5" y1="295.91" x2="150.3" y2="295.91" stroke="#222" stroke-width="0.9" />
<line x1="147.3" y1="291.0" x2="150.3" y2="291.0" stroke="#222" stroke-width="0.9" />
<line x1="148.5" y1="286.09" x2="150.3" y2="286.09" stroke="#222" stroke-width="0.9" />
<line x1="148.5" y1="281.18" x2="150.3" y2="281.18" stroke="#222" stroke-width="0.9" />
<text x="146.2" y="391.4" font-size="6.3" text-anchor="end" fill="#2e2e2e" font-weight="normal" >0</text>
<text x="146.2" y="342.3" font-size="6.3" text-anchor="end" fill="#2e2e2e" font-weight="normal" >50</text>
<text x="146.2" y="293.2" font-size="6.3" text-anchor="end" fill="#2e2e2e" font-weight="normal" >100</text>
<line x1="149.70000000000002" y1="389.2" x2="278.6" y2="389.2" stroke="#222" stroke-width="1.3" />
<line x1="150.3" y1="389.2" x2="150.3" y2="392.2" stroke="#222" stroke-width="1" />
<line x1="158.76000000000002" y1="389.2" x2="158.76000000000002" y2="391.0" stroke="#222" stroke-width="1" />
<line x1="167.22" y1="389.2" x2="167.22" y2="391.0" stroke="#222" stroke-width="1" />
<line x1="175.68" y1="389.2" x2="175.68" y2="391.0" stroke="#222" stroke-width="1" />
<line x1="184.14000000000001" y1="389.2" x2="184.14000000000001" y2="391.0" stroke="#222" stroke-width="1" />
<line x1="192.6" y1="389.2" x2="192.6" y2="392.2" stroke="#222" stroke-width="1" />
<line x1="201.06" y1="389.2" x2="201.06" y2="391.0" stroke="#222" stroke-width="1" />
<line x1="209.52" y1="389.2" x2="209.52" y2="391.0" stroke="#222" stroke-width="1" />
<line x1="217.98000000000002" y1="389.2" x2="217.98000000000002" y2="391.0" stroke="#222" stroke-width="1" />
<line x1="226.44" y1="389.2" x2="226.44" y2="391.0" stroke="#222" stroke-width="1" />
<line x1="234.89999999999998" y1="389.2" x2="234.89999999999998" y2="392.2" stroke="#222" stroke-width="1" />
<line x1="243.35999999999999" y1="389.2" x2="243.35999999999999" y2="391.0" stroke="#222" stroke-width="1" />
<line x1="251.82" y1="389.2" x2="251.82" y2="391.0" stroke="#222" stroke-width="1" />
<line x1="260.28" y1="389.2" x2="260.28" y2="391.0" stroke="#222" stroke-width="1" />
<line x1="268.74" y1="389.2" x2="268.74" y2="391.0" stroke="#222" stroke-width="1" />
<line x1="277.2" y1="389.2" x2="277.2" y2="392.2" stroke="#222" stroke-width="1" />
<text x="150.3" y="401.0" font-size="6.3" text-anchor="middle" fill="#2e2e2e" font-weight="normal" >0</text>
<text x="192.6" y="401.0" font-size="6.3" text-anchor="middle" fill="#2e2e2e" font-weight="normal" >50</text>
<text x="234.89999999999998" y="401.0" font-size="6.3" text-anchor="middle" fill="#2e2e2e" font-weight="normal" >100</text>
<text x="277.2" y="401.0" font-size="6.3" text-anchor="middle" fill="#2e2e2e" font-weight="normal" >150</text>
<text x="197.8" y="413.2" font-size="8.2" fill="#2e2e2e" textLength="34.5" lengthAdjust="spacingAndGlyphs">Time (days)</text>
<text x="-36.65" y="0" font-size="8.0" text-anchor="start" fill="#2e2e2e" textLength="73.3" lengthAdjust="spacingAndGlyphs" transform="translate(128.0,335.25) rotate(-90)">Disease-free survival (%)</text>
<path d="M150.3 291.05 H190.8 V301.2 H201.1 V310.9 H232.5 V320.7 H257.5" fill="none" stroke="#4f1d5e" stroke-width="1.15"/>
<path d="M150.3 291 H182.4 V301 H184.3 V389" fill="none" stroke="#b0282c" stroke-width="1.05"/>
<path d="M150.3 291 H182.2 V301 H184.1 V389" fill="none" stroke="#cf7c2c" stroke-width="1" stroke-dasharray="2.2 1.4"/>
<rect x="189.00" y="299.40" width="3.6" height="3.6" fill="#5c2166"/>
<rect x="199.30" y="309.10" width="3.6" height="3.6" fill="#5c2166"/>
<rect x="230.70" y="318.90" width="3.6" height="3.6" fill="#5c2166"/>
<rect x="252.40" y="318.90" width="3.6" height="3.6" fill="#5c2166"/>
<rect x="254.70" y="318.90" width="3.6" height="3.6" fill="#5c2166"/>
<path d="M182.50 313.40 L184.00 310.70 L185.50 313.40Z" fill="#b0282c"/>
<path d="M182.70 317.40 L184.20 314.70 L185.70 317.40Z" fill="#b0282c"/>
<path d="M182.90 352.40 L184.40 349.70 L185.90 352.40Z" fill="#b0282c"/>
<path d="M183.10 382.00 L184.60 379.30 L186.10 382.00Z" fill="#b0282c"/>
<circle cx="181.9" cy="301.1" r="1.8" fill="#cf7c2c"/>
<circle cx="182.8" cy="321.1" r="1.8" fill="#cf7c2c"/>
<circle cx="183.6" cy="369.2" r="1.8" fill="#cf7c2c"/>
<circle cx="184.5" cy="388.4" r="1.8" fill="#cf7c2c"/>
<line x1="286" y1="323.7" x2="294.5" y2="323.7" stroke="#b0282c" stroke-width="1" />
<path d="M288.50 325.06 L290.20 322.00 L291.90 325.06Z" fill="#b0282c"/>
<text x="297.8" y="326.0" font-size="6.5" text-anchor="start" fill="#2e2e2e" font-weight="normal" >Control</text>
<line x1="286" y1="333.7" x2="294.5" y2="333.7" stroke="#cf7c2c" stroke-width="1" stroke-dasharray="2 1.2"/>
<circle cx="290.2" cy="333.7" r="1.9" fill="#cf7c2c"/>
<text x="297.8" y="336.0" font-size="6.5" text-anchor="start" fill="#2e2e2e" font-weight="normal" >PHF8 AA</text>
<line x1="286" y1="343.7" x2="294.5" y2="343.7" stroke="#5c2166" stroke-width="1" />
<rect x="288.4" y="341.9" width="3.6" height="3.6" fill="#5c2166"/>
<text x="297.8" y="346.0" font-size="6.5" text-anchor="start" fill="#2e2e2e" font-weight="normal" >PHF8 DD</text>
<text x="235.6" y="374.7" font-size="6.75" fill="#2e2e2e"><tspan font-style="italic">P</tspan> &lt; .0001</text>
<text x="235.6" y="383.0" font-size="6.9" text-anchor="start" fill="#2e2e2e" font-weight="normal" >n = 10</text>
<rect x="0.5" y="0.5" width="519" height="426" fill="none" stroke="#585858" stroke-width="1"/>
<rect x="1.5" y="1.5" width="517" height="424" fill="none" stroke="#e8e8e8" stroke-width="1" opacity="0.5"/>
</svg></div></body></html>
